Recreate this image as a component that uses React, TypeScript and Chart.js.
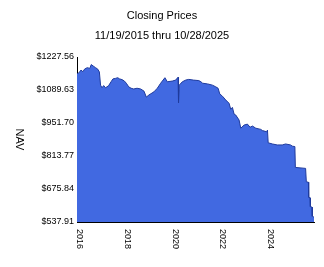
import React, { useEffect, useRef } from "react";
import { Chart, registerables } from "chart.js";

Chart.register(...registerables);

const titleLines = ["Closing Prices", "11/19/2015 thru 10/28/2025"];
const yAxisTitle = "NAV";

// dates as decimal years
const years = [
  2015.882, 2015.96, 2016.05, 2016.13, 2016.2, 2016.31, 2016.42, 2016.48, 2016.56, 2016.66,
  2016.75, 2016.82, 2016.87, 2016.93, 2017.0, 2017.08, 2017.14, 2017.21, 2017.31, 2017.39,
  2017.49, 2017.59, 2017.67, 2017.77, 2017.87, 2017.95, 2018.05, 2018.15, 2018.26, 2018.4,
  2018.55, 2018.69, 2018.79, 2018.9, 2019.11, 2019.25, 2019.39, 2019.57, 2019.67, 2019.88,
  2020.02, 2020.12, 2020.14, 2020.17, 2020.3, 2020.44, 2020.57, 2020.77, 2020.99, 2021.08,
  2021.15, 2021.36, 2021.56, 2021.7, 2021.8, 2021.87, 2021.98, 2022.12, 2022.26, 2022.33,
  2022.4, 2022.47, 2022.54, 2022.68, 2022.75, 2022.89, 2023.03, 2023.14, 2023.24, 2023.38,
  2023.59, 2023.66, 2023.84, 2023.87, 2023.9, 2024.08, 2024.28, 2024.49, 2024.63, 2024.84,
  2024.91, 2025.02, 2025.04, 2025.47, 2025.5, 2025.59, 2025.6, 2025.66, 2025.67, 2025.74,
  2025.75, 2025.822,
];

const nav = [
  1158, 1161, 1173, 1166, 1177, 1183, 1180, 1196, 1190, 1183,
  1177, 1165, 1110, 1099, 1108, 1099, 1103, 1108, 1124, 1136,
  1138, 1141, 1136, 1133, 1127, 1118, 1103, 1097, 1094, 1097,
  1094, 1085, 1060, 1069, 1082, 1097, 1118, 1141, 1124, 1127,
  1131, 1143, 1037, 1110, 1124, 1131, 1134, 1131, 1129, 1124,
  1118, 1115, 1110, 1103, 1097, 1073, 1064, 1048, 1034, 1009,
  1017, 989, 985, 964, 930, 943, 947, 934, 939, 930,
  925, 920, 915, 922, 869, 864, 860, 860, 864, 860,
  855, 853, 766, 762, 706, 704, 641, 639, 602, 600,
  562, 558,
];

const yTicks = [537.91, 675.84, 813.77, 951.7, 1089.63, 1227.56];
const xTicks = [2016, 2018, 2020, 2022, 2024];
const xMin = 2015.882;
const xMax = 2025.822;

const FONT = '"Liberation Sans", Arial, sans-serif';

export default function App() {
  const ref = useRef<HTMLCanvasElement | null>(null);

  useEffect(() => {
    if (!ref.current) return;
    const textPlugin = {
      id: "customText",
      afterDraw(chart: any) {
        const ctx = chart.ctx;
        ctx.save();
        ctx.fillStyle = "#000";
        ctx.font = `11px ${FONT}`;
        ctx.textAlign = "center";
        ctx.textBaseline = "alphabetic";
        ctx.fillText(titleLines[0], chart.width / 2, 19);
        ctx.fillText(titleLines[1], chart.width / 2, 39);

        // y axis title, rotated clockwise
        const area = chart.chartArea;
        ctx.save();
        ctx.translate(19, (area.top + area.bottom) / 2);
        ctx.rotate(Math.PI / 2);
        ctx.textAlign = "center";
        ctx.textBaseline = "middle";
        ctx.font = `11px ${FONT}`;
        ctx.fillText(yAxisTitle, 0, 0);
        ctx.restore();

        // x tick labels, rotated clockwise
        const xs = chart.scales.x;
        ctx.font = `9px ${FONT}`;
        for (const t of xs.ticks) {
          const px = xs.getPixelForValue(t.value);
          ctx.save();
          ctx.translate(px, area.bottom + 7);
          ctx.rotate(Math.PI / 2);
          ctx.textAlign = "left";
          ctx.textBaseline = "middle";
          ctx.fillText(String(t.value), 0, 0);
          ctx.restore();
        }
        ctx.restore();
      },
    };

    const chart = new Chart(ref.current, {
      type: "line",
      data: {
        datasets: [
          {
            data: years.map((x, i) => ({ x, y: nav[i] })),
            borderColor: "#1f3a9c",
            borderWidth: 1,
            backgroundColor: "#4169e1",
            fill: "start",
            pointRadius: 0,
            tension: 0,
          },
        ],
      },
      options: {
        responsive: false,
        animation: false,
        devicePixelRatio: 1,
        events: [],
        layout: { padding: { top: 57, right: 10, left: 0, bottom: 0 } },
        plugins: {
          legend: { display: false },
          title: { display: false },
          tooltip: { enabled: false },
        },
        scales: {
          x: {
            type: "linear",
            min: xMin,
            max: xMax,
            grid: { display: false, drawTicks: false },
            border: { display: true, color: "#000", width: 1 },
            ticks: { display: false },
            afterBuildTicks: (scale: any) => {
              scale.ticks = xTicks.map((v) => ({ value: v }));
            },
            afterFit: (scale: any) => {
              scale.height = 45;
            },
          },
          y: {
            min: yTicks[0],
            max: yTicks[yTicks.length - 1],
            grid: { display: false, drawTicks: false },
            border: { display: true, color: "#000", width: 1 },
            ticks: {
              color: "#000",
              padding: 3,
              autoSkip: false,
              font: { family: FONT, size: 9 },
              callback: (v: any) => "$" + Number(v).toFixed(2),
            },
            afterBuildTicks: (scale: any) => {
              scale.ticks = yTicks.map((v) => ({ value: v }));
            },
            afterFit: (scale: any) => {
              scale.width = 77;
            },
          },
        },
      },
      plugins: [textPlugin],
    } as any);
    return () => chart.destroy();
  }, []);

  return (
    <div style={{ position: "fixed", left: 0, top: 0, width: 324, height: 267, background: "#fff" }}>
      <canvas ref={ref} width={324} height={267} style={{ display: "block" }} />
    </div>
  );
}
